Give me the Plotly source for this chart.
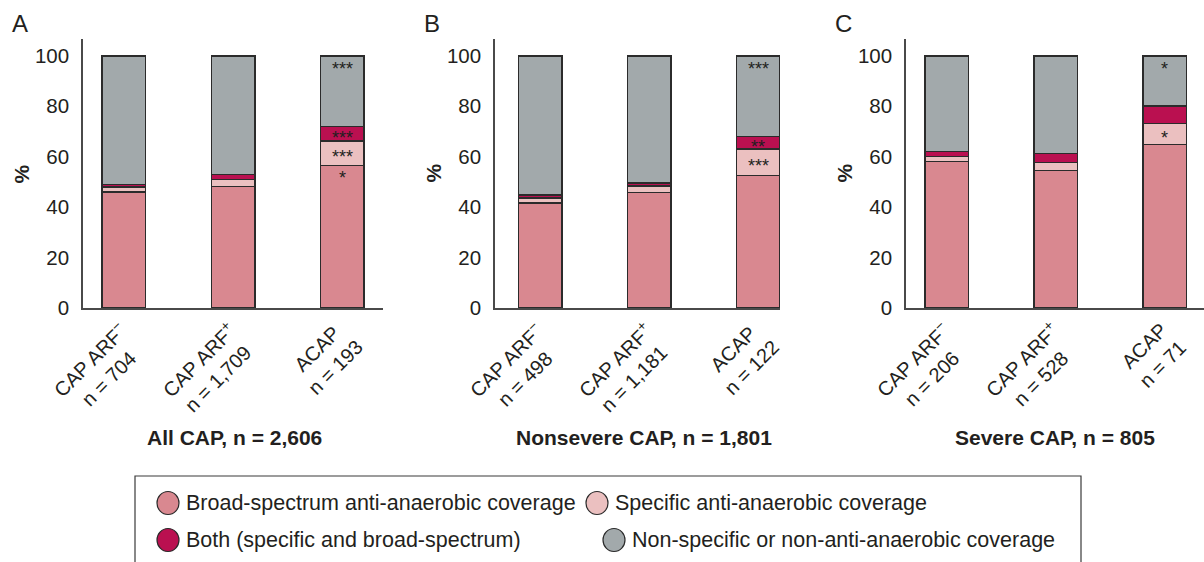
import plotly.graph_objects as go

# ---------------- data ----------------
categories = ["CAP ARF-", "CAP ARF+", "ACAP"]

tick_labels_A = ["CAP ARF<sup>−</sup><br>n = 704", "CAP ARF<sup>+</sup><br>n = 1,709", "ACAP<br>n = 193"]
tick_labels_B = ["CAP ARF<sup>−</sup><br>n = 498", "CAP ARF<sup>+</sup><br>n = 1,181", "ACAP<br>n = 122"]
tick_labels_C = ["CAP ARF<sup>−</sup><br>n = 206", "CAP ARF<sup>+</sup><br>n = 528", "ACAP<br>n = 71"]

panel_titles = ["All CAP, n = 2,606", "Nonsevere CAP, n = 1,801", "Severe CAP, n = 805"]
panel_letters = ["A", "B", "C"]

series_names = ["Broad-spectrum anti-anaerobic coverage", "Specific anti-anaerobic coverage",
                "Both (specific and broad-spectrum)", "Non-specific or non-anti-anaerobic coverage"]

broad_A = [46.0, 48.2, 56.5]
specific_A = [2.0, 2.7, 9.8]
both_A = [1.0, 2.1, 5.7]
nonspec_A = [51.0, 47.0, 28.0]

broad_B = [41.7, 45.8, 52.5]
specific_B = [2.0, 2.6, 10.6]
both_B = [1.2, 1.2, 4.9]
nonspec_B = [55.1, 50.4, 32.0]

broad_C = [58.2, 54.6, 64.8]
specific_C = [2.0, 3.2, 8.4]
both_C = [1.9, 3.5, 7.0]
nonspec_C = [37.9, 38.7, 19.8]

# significance marks per segment (broad, specific, both, non-specific)
sig_A = [["", "", "*"], ["", "", "***"], ["", "", "***"], ["", "", "***"]]
sig_B = [["", "", ""], ["", "", "***"], ["", "", "**"], ["", "", "***"]]
sig_C = [["", "", ""], ["", "", "*"], ["", "", ""], ["", "", "*"]]

y_ticks = [0, 20, 40, 60, 80, 100]

# ---------------- style ----------------
W, H = 1204, 562
FONT = "Liberation Sans, Arial, Helvetica, sans-serif"
TXT = "#231f20"
colors = ["#d98890", "#ebc0c0", "#ba1050", "#a2a9ab"]
outline = "#2b2b2b"
axis_col = "#4a4a4a"

panels = [
    dict(data=[broad_A, specific_A, both_A, nonspec_A], sig=sig_A, ticks=tick_labels_A,
         px=(83, 383), xr=[-0.376, 2.376], title_x=234),
    dict(data=[broad_B, specific_B, both_B, nonspec_B], sig=sig_B, ticks=tick_labels_B,
         px=(495, 780), xr=[-0.416, 2.2], title_x=644),
    dict(data=[broad_C, specific_C, both_C, nonspec_C], sig=sig_C, ticks=tick_labels_C,
         px=(906, 1204), xr=[-0.375, 2.36], title_x=1055),
]

y_bottom_px, y_top_px = 308, 39
ydom = [(H - y_bottom_px) / H, (H - y_top_px) / H]
yrange = [0, 106.7]

fig = go.Figure()
annotations = []
layout_axes = {}

for i, p in enumerate(panels):
    n = "" if i == 0 else str(i + 1)
    xref, yref = "x" + n, "y" + n
    for s in range(4):
        fig.add_trace(go.Bar(
            x=categories, y=p["data"][s], name=series_names[s],
            xaxis=xref, yaxis=yref, width=0.4, showlegend=False,
            marker=dict(color=colors[s], line=dict(color=outline, width=1.4)),
            hoverinfo="y+name",
        ))
    layout_axes["xaxis" + n] = dict(
        domain=[p["px"][0] / W, min(p["px"][1] / W, 1.0)], range=p["xr"], anchor=yref,
        showline=True, linecolor=axis_col, linewidth=1.5, showticklabels=False,
        ticks="", showgrid=False, zeroline=False, type="category", automargin=False)
    layout_axes["yaxis" + n] = dict(
        domain=ydom, range=yrange, anchor=xref, tickvals=y_ticks,
        showline=True, linecolor=axis_col, linewidth=1.5, ticks="",
        ticklabelstandoff=8, tickfont=dict(size=20.5, color=TXT, family=FONT),
        showgrid=False, zeroline=False, automargin=False)

    # category labels (rotated, centred lines)
    for c, lab in zip(categories, p["ticks"]):
        annotations.append(dict(
            x=c, y=0, xref=xref, yref=yref, text=lab, showarrow=False,
            textangle=-45, align="center", xanchor="right", yanchor="top",
            xshift=28, yshift=-7, font=dict(size=20, color=TXT, family=FONT)))

    # significance marks
    for k in range(3):
        cum = 0.0
        for s in range(4):
            v = p["data"][s][k]
            mark = p["sig"][s][k]
            if mark:
                if s in (0, 3):
                    yv = cum + v - 3.5
                else:
                    yv = cum + v / 2
                annotations.append(dict(
                    x=categories[k], y=yv, xref=xref, yref=yref, text=mark,
                    showarrow=False, xanchor="center", yanchor="middle", yshift=-4,
                    font=dict(size=18, color=TXT, family=FONT)))
            cum += v

    # y-axis title
    annotations.append(dict(
        x=0, y=0.5, xref=xref + " domain", yref=yref + " domain", text="<b>%</b>",
        showarrow=False, textangle=-90, xshift=-62, xanchor="center", yanchor="middle",
        font=dict(size=21, color=TXT, family=FONT)))
    # panel letter
    annotations.append(dict(
        x=0, y=(H - 23) / H, xref=xref + " domain", yref="paper", text=panel_letters[i],
        showarrow=False, xshift=-63, xanchor="center", yanchor="middle",
        font=dict(size=24, color=TXT, family=FONT)))
    # panel subtitle
    annotations.append(dict(
        x=p["title_x"] / W, y=(H - 437) / H, xref="paper", yref="paper",
        text="<b>" + panel_titles[i] + "</b>", showarrow=False,
        xanchor="center", yanchor="middle",
        font=dict(size=21, color=TXT, family=FONT)))

# ---------------- legend (manual, circles) ----------------
shapes = [dict(type="rect", xref="paper", yref="paper",
               x0=135 / W, x1=1081 / W, y0=-0.2, y1=(H - 476) / H,
               line=dict(color="#3a3a3a", width=1.2), fillcolor="rgba(0,0,0,0)")]
legend_pos = [(168, 503), (597, 503), (168, 540), (614, 540)]
for s in range(4):
    cx, cy = legend_pos[s]
    shapes.append(dict(type="circle", xref="paper", yref="paper",
                       xsizemode="pixel", ysizemode="pixel",
                       xanchor=cx / W, yanchor=(H - cy) / H,
                       x0=-11, x1=11, y0=-11.5, y1=11.5,
                       fillcolor=colors[s], line=dict(color=outline, width=1.2)))
    annotations.append(dict(
        x=(cx + 16) / W, y=(H - cy) / H, xref="paper", yref="paper",
        text=series_names[s], showarrow=False, xanchor="left", yanchor="middle",
        font=dict(size=21.5, color=TXT, family=FONT)))

fig.update_layout(
    width=W, height=H, margin=dict(l=0, r=0, t=0, b=0, autoexpand=False),
    paper_bgcolor="white", plot_bgcolor="white",
    barmode="stack", bargap=0.6,
    font=dict(family=FONT, color=TXT),
    annotations=annotations, shapes=shapes, showlegend=False,
    **layout_axes)

fig.write_html("out.html", config={"displayModeBar": False},
               post_script="document.body.style.margin='0px';document.body.style.overflow='hidden';")
